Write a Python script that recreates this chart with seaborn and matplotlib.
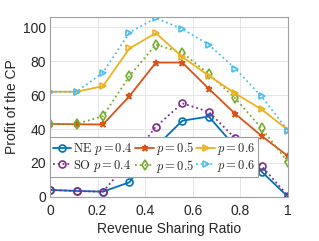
import numpy as np
import matplotlib
matplotlib.use("Agg")
import matplotlib.pyplot as plt
import seaborn as sns

# revenue sharing ratio (10 points)
ratio = [0.0, 1/9, 2/9, 3/9, 4/9, 5/9, 6/9, 7/9, 8/9, 1.0]

ne_04 = [4.1, 3.5, 3.1, 8.6, 29.6, 44.9, 47.4, 29.6, 14.9, 0.0]
so_04 = [4.1, 3.5, 3.1, 21.0, 41.4, 55.2, 50.2, 34.5, 18.2, 0.5]
ne_05 = [43.0, 42.8, 42.7, 59.4, 79.2, 79.2, 63.8, 49.0, 35.9, 24.0]
so_05 = [43.0, 43.0, 47.6, 71.2, 89.8, 85.0, 72.5, 58.2, 40.4, 20.4]
ne_06 = [62.0, 62.0, 65.3, 87.5, 96.6, 82.5, 71.5, 61.0, 51.6, 39.4]
so_06 = [62.0, 62.0, 73.3, 96.9, 105.5, 99.0, 89.8, 75.7, 59.2, 39.0]

labels = [r"$\mathrm{NE}\ p = 0.4$", r"$\mathrm{SO}\ p = 0.4$",
          r"$p = 0.5$", r"$p = 0.5$",
          r"$p = 0.6$", r"$p = 0.6$"]

sns.set_theme(style="whitegrid")
plt.rcParams['font.family'] = ['Liberation Sans', 'DejaVu Sans']
plt.rcParams['mathtext.fontset'] = 'cm'

fig = plt.figure(figsize=(3.19, 2.41), dpi=100)
ax = fig.add_axes([0.157, 0.183, 0.746, 0.746])

series = [
    (ne_04, '#0072BD', 'o', '-'),
    (so_04, '#7E2F8E', 'o', ':'),
    (ne_05, '#D95319', '*', '-'),
    (so_05, '#77AC30', 'd', ':'),
    (ne_06, '#EDB120', '>', '-'),
    (so_06, '#4DBEEE', '>', ':'),
]

for (vals, col, mk, ls), lab in zip(series, labels):
    sns.lineplot(x=ratio, y=vals, ax=ax, color=col, marker=mk, linestyle=ls,
                 linewidth=1.3, markersize=5, markerfacecolor='none',
                 markeredgecolor=col, markeredgewidth=1.2, label=lab)

ax.set_xlim(0, 1)
ax.set_ylim(0, 106)
ax.set_xticks([0, 0.2, 0.4, 0.6, 0.8, 1])
ax.set_xticklabels(['0', '0.2', '0.4', '0.6', '0.8', '1'])
ax.set_yticks([0, 20, 40, 60, 80, 100])
ax.tick_params(labelsize=10, colors='#262626', pad=3, direction='in', length=2)
ax.tick_params(axis='x', pad=5)
ax.set_xlabel('Revenue Sharing Ratio', fontsize=10, color='#262626', labelpad=3)
ax.set_ylabel('Profit of the CP', fontsize=10, color='#262626', labelpad=3)
ax.grid(True, color='#e6e6e6', linewidth=0.7)
for sp in ax.spines.values():
    sp.set_color('#a0a0a0')
    sp.set_linewidth(0.8)

leg = ax.legend(ncol=3, loc='lower left', bbox_to_anchor=(0.0, 0.11),
                borderaxespad=0, fontsize=9, handlelength=1.5,
                handletextpad=0.15, columnspacing=0.2, borderpad=0.2,
                labelspacing=0.05, frameon=True, fancybox=False,
                framealpha=1)
leg.get_frame().set_edgecolor('#a0a0a0')
leg.get_frame().set_linewidth(0.8)

fig.savefig('out.png', dpi=100)
